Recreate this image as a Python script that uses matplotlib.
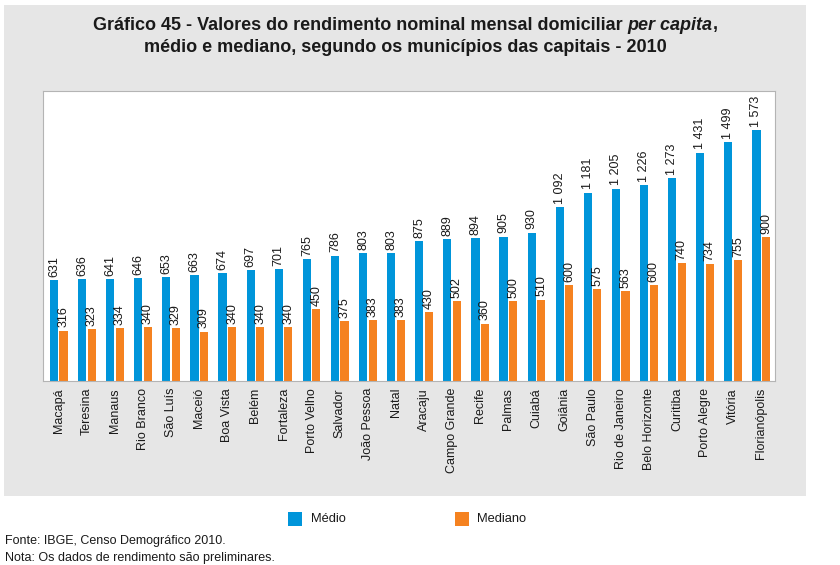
import matplotlib.pyplot as plt
from matplotlib.patches import Rectangle
from matplotlib import font_manager
import numpy as np

nomes = sorted({f.name for f in font_manager.fontManager.ttflist})
narrow = 'Liberation Sans Narrow' if 'Liberation Sans Narrow' in nomes else 'Liberation Sans'
plt.rcParams['font.family'] = ['Liberation Sans', 'DejaVu Sans']

cidades = ["Macapá", "Teresina", "Manaus", "Rio Branco", "São Luís", "Maceió",
           "Boa Vista", "Belém", "Fortaleza", "Porto Velho", "Salvador",
           "João Pessoa", "Natal", "Aracaju", "Campo Grande", "Recife", "Palmas",
           "Cuiabá", "Goiânia", "São Paulo", "Rio de Janeiro", "Belo Horizonte",
           "Curitiba", "Porto Alegre", "Vitória", "Florianópolis"]
medio = [631, 636, 641, 646, 653, 663, 674, 697, 701, 765, 786, 803, 803, 875,
         889, 894, 905, 930, 1092, 1181, 1205, 1226, 1273, 1431, 1499, 1573]
mediano = [316, 323, 334, 340, 329, 309, 340, 340, 340, 450, 375, 383, 383, 430,
           502, 360, 500, 510, 600, 575, 563, 600, 740, 734, 755, 900]

AZUL = '#0095da'
LARANJA = '#f58220'
CINZA = '#e6e6e6'
TEXTO = '#1a1a1a'

W, H = 840, 565
fig = plt.figure(figsize=(W / 100, H / 100), dpi=100, facecolor='white')

# painel cinza de fundo
fig.patches.append(Rectangle((4 / W, 1 - 496 / H), 802 / W, 491 / H,
                             transform=fig.transFigure, facecolor=CINZA,
                             edgecolor='none', zorder=-10))

ax = fig.add_axes([43 / W, 1 - 381 / H, 732 / W, 290 / H])
ax.set_zorder(1)
ax.set_facecolor('white')

x = np.arange(len(cidades))
larg = 0.29
ax.bar(x - 0.17, medio, larg, color=AZUL, zorder=2)
ax.bar(x + 0.17, mediano, larg, color=LARANJA, zorder=2)

def fmt(v):
    return f"{v:,}".replace(",", " ")

for xi, v in zip(x, medio):
    ax.text(xi - 0.17, v + 20, fmt(v), rotation=90, ha='center', va='bottom',
            fontsize=9, color=TEXTO)
for xi, v in zip(x, mediano):
    ax.text(xi + 0.17, v + 20, fmt(v), rotation=90, ha='center', va='bottom',
            fontsize=9, color=TEXTO)

ax.set_xlim(-0.56, 25.49)
ax.set_ylim(0, 1817)
ax.set_yticks([])
ax.set_xticks(x)
ax.set_xticklabels(cidades, rotation=90, fontsize=9, color=TEXTO)
ax.tick_params(axis='x', length=0, pad=5)
for s in ax.spines.values():
    s.set_color('#b4b4b4')
    s.set_linewidth(0.8)

# titulo, com "per capita" em italico
tkw = dict(family=[narrow, 'Liberation Sans', 'DejaVu Sans'], fontsize=13,
           fontweight='bold', color=TEXTO, va='center')
partes = [("Gráfico 45 - Valores do rendimento nominal mensal domiciliar ", 'normal'),
          ("per capita", 'italic'), (",", 'normal')]
fig.canvas.draw()
r = fig.canvas.get_renderer()
objs = [fig.text(0, 1 - 25 / H, s, style=st, **tkw) for s, st in partes]
larguras = [o.get_window_extent(r).width for o in objs]
x0 = 405 - sum(larguras) / 2
for o, lw in zip(objs, larguras):
    o.set_x(x0 / W)
    x0 += lw
fig.text(405 / W, 1 - 47 / H,
         "médio e mediano, segundo os municípios das capitais - 2010",
         ha='center', **tkw)

# legenda
fig.patches.append(Rectangle((288 / W, 1 - 526 / H), 14 / W, 14 / H,
                             transform=fig.transFigure, facecolor=AZUL, edgecolor='none'))
fig.text(311 / W, 1 - 519 / H, "Médio", va='center', fontsize=9.3, color=TEXTO)
fig.patches.append(Rectangle((455 / W, 1 - 526 / H), 14 / W, 14 / H,
                             transform=fig.transFigure, facecolor=LARANJA, edgecolor='none'))
fig.text(477 / W, 1 - 519 / H, "Mediano", va='center', fontsize=9.3, color=TEXTO)

fig.text(5 / W, 1 - 541 / H, "Fonte: IBGE, Censo Demográfico 2010.",
         va='center', fontsize=9, color=TEXTO)
fig.text(5 / W, 1 - 558 / H, "Nota: Os dados de rendimento são preliminares.",
         va='center', fontsize=9, color=TEXTO)

fig.savefig('out.png', dpi=100, facecolor='white')
